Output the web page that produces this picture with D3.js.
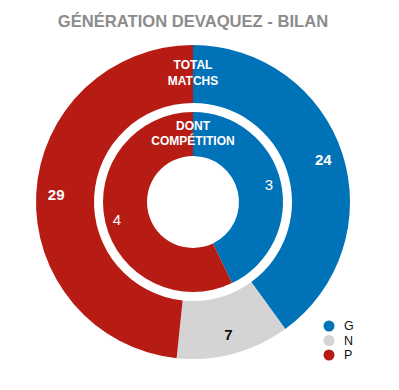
<!DOCTYPE html>
<html><head><meta charset="utf-8">
<script src="https://cdn.jsdelivr.net/npm/d3@7"></script>
<style>html,body{margin:0;padding:0;background:#fff}svg{display:block}</style>
</head><body>
<svg id="c" width="399" height="390"></svg>
<script>
const categories = ["G", "N", "P"];
const totalMatchs = [24, 7, 29];
const dontCompetition = [3, 0, 4];
const colors = ["#0072b8", "#d4d4d4", "#b71c14"];
const title = "GÉNÉRATION DEVAQUEZ - BILAN";

const svg = d3.select("#c");
const font = "Liberation Sans, Arial, Helvetica, sans-serif";
const cx = 193, cy = 202;
const g = svg.append("g").attr("transform", `translate(${cx},${cy})`);
const color = d3.scaleOrdinal().domain(categories).range(colors);
const pie = d3.pie().sort(null).value(d => d.v);

function ring(values, r0, r1, lr, weight, labelColor) {
  const data = pie(categories.map((c, i) => ({c, v: values[i]})));
  const arc = d3.arc().innerRadius(r0).outerRadius(r1);
  g.append("g").selectAll("path").data(data).join("path")
    .attr("d", arc).attr("fill", d => color(d.data.c));
  const la = d3.arc().innerRadius(lr).outerRadius(lr);
  g.append("g").selectAll("text").data(data.filter(d => d.data.v > 0)).join("text")
    .attr("transform", d => `translate(${la.centroid(d)})`)
    .attr("text-anchor", "middle").attr("dominant-baseline", "central")
    .attr("font-family", font).attr("font-size", 15).attr("font-weight", weight)
    .attr("fill", d => labelColor(d.data.c))
    .text(d => d.data.v);
}
ring(totalMatchs, 99, 157, 137, "bold", c => c === "N" ? "#111" : "#fff");
ring(dontCompetition, 46, 90, 78, "normal", c => "#fff");

const centerText = [["TOTAL", -137], ["MATCHS", -121], ["DONT", -76], ["COMPÉTITION", -61]];
g.append("g").selectAll("text").data(centerText).join("text")
  .attr("x", 0).attr("y", d => d[1])
  .attr("text-anchor", "middle").attr("dominant-baseline", "central")
  .attr("font-family", font).attr("font-size", 12).attr("font-weight", "bold")
  .attr("fill", "#fff").text(d => d[0]);

svg.append("text").attr("x", 193).attr("y", 27).attr("text-anchor", "middle")
  .attr("font-family", font).attr("font-size", 16.6).attr("font-weight", "bold")
  .attr("fill", "#8c8c8c").text(title);

const leg = svg.append("g").attr("transform", "translate(329,326)");
const ly = d3.scalePoint().domain(categories).range([0, 29]);
leg.selectAll("circle").data(categories).join("circle")
  .attr("cx", 0).attr("cy", d => ly(d)).attr("r", 5.5).attr("fill", d => color(d));
leg.selectAll("text").data(categories).join("text")
  .attr("x", 15).attr("y", d => ly(d)).attr("dominant-baseline", "central")
  .attr("font-family", font).attr("font-size", 12.5).attr("fill", "#111").text(d => d);
</script>
</body></html>
